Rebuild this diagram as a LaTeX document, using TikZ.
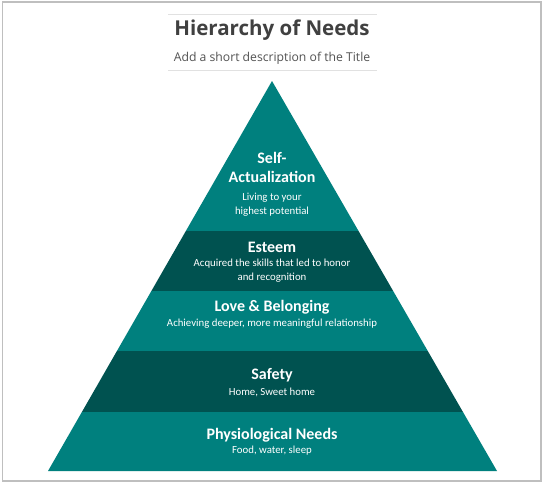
\documentclass[tikz,border=0pt]{standalone}
\usepackage{fontspec}
\setmainfont{Carlito}
\newfontfamily\headfont{Open Sans}
\definecolor{teal1}{RGB}{0,128,126}
\definecolor{teal2}{RGB}{0,82,80}
\definecolor{ink}{RGB}{64,64,64}
\definecolor{rule}{RGB}{225,225,225}

\begin{document}
\begin{tikzpicture}[x=1pt,y=-1pt,
    level/.style={text=white,align=center,inner sep=0pt},
    head/.style={font=\bfseries\fontsize{16}{18}\selectfont},
    sub/.style={font=\fontsize{10.8}{14}\selectfont}]
              \useasboundingbox (0,0) rectangle (544,485);
              \fill[white] (0,0) rectangle (544,485);
              \draw[rule!85!black,line width=1.2pt] (2.5,2) rectangle (541,481);
              % title block
              \draw[rule] (168,14) -- (377,14);
              \draw[rule] (168,70) -- (377,70);
              \node[text=ink,font=\headfont\bfseries\fontsize{20.5}{22}\selectfont] (title) at (272,30) {Hierarchy of Needs};
              \node[text=ink!90,font=\headfont\fontsize{12.2}{14}\selectfont] (desc) at (272,58) {Add a short description of the Title};
              % pyramid bands
              \begin{scope}
                \clip (272,81) -- (497,471) -- (48,471) -- cycle;
                \fill[teal1] (0,70) rectangle (544,231);
                \fill[teal2] (0,231) rectangle (544,291);
                \fill[teal1] (0,291) rectangle (544,351);
                \fill[teal2] (0,351) rectangle (544,412);
                \fill[teal1] (0,412) rectangle (544,472);
              \end{scope}
              % labels
              \node[level,head] (self) at (272,167) {Self-\\[1pt]Actualization};
              \node[level,sub] (selfd) at (272,205) {Living to your\\highest potential};
              \node[level,head] (esteem) at (272,247) {Esteem};
              \node[level,sub] (esteemd) at (272,271) {Acquired the skills that led to honor\\and recognition};
              \node[level,head] (love) at (272,307) {Love \& Belonging};
              \node[level,sub] (loved) at (272,324) {Achieving deeper, more meaningful relationship};
              \node[level,head] (safety) at (272,375) {Safety};
              \node[level,sub] (safetyd) at (272,392) {Home, Sweet home};
              \node[level,head] (phys) at (272,435) {Physiological Needs};
              \node[level,sub] (physd) at (272,451) {Food, water, sleep};
            \end{tikzpicture}
\end{document}
